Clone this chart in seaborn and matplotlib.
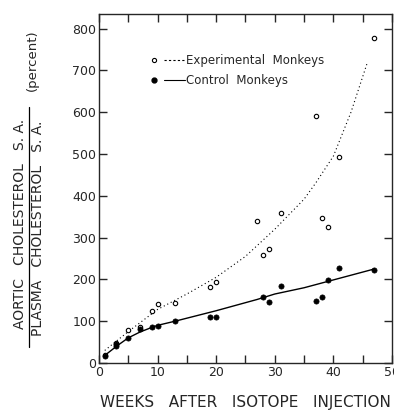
# Aortic / plasma cholesterol specific activity vs weeks after isotope injection

import pandas as pd
import seaborn as sns
import matplotlib.pyplot as plt
from matplotlib.lines import Line2D
from matplotlib.legend_handler import HandlerTuple

# individual animals
exp_weeks = [1, 3, 5, 7, 9, 10, 13, 19, 20, 27, 28, 29, 31, 37, 38, 39, 41, 47]
exp_vals = [20, 48, 79, 87, 125, 140, 143, 181, 194, 340, 258, 273, 358, 592, 347, 325, 492, 778]

ctl_weeks = [1, 3, 3, 5, 7, 9, 10, 13, 19, 20, 28, 29, 31, 37, 38, 39, 41, 47]
ctl_vals = [17, 40, 45, 59, 81, 85, 88, 100, 111, 111, 159, 145, 185, 149, 159, 199, 228, 223]

# hand-drawn trend curves
exp_curve_weeks = [1, 5, 10, 15, 20, 25, 30, 35, 37, 40, 43, 45.7]
exp_curve_vals = [30, 75, 128, 165, 205, 255, 320, 392, 431, 495, 600, 715]

ctl_curve_weeks = [1, 3, 5, 7, 9, 10, 13, 20, 27, 30, 35, 39, 47]
ctl_curve_vals = [18, 40, 60, 74, 85, 90, 100, 125, 152, 165, 180, 195, 225]

sns.set_style("ticks")
plt.rcParams['font.family'] = ['DejaVu Sans']

fig = plt.figure(figsize=(3.94, 4.12), dpi=100)
ax = fig.add_axes([0.251, 0.119, 0.744, 0.847])

dotted = (0, (1, 2.5))

sns.lineplot(x=exp_curve_weeks, y=exp_curve_vals, ax=ax, color='black',
             linewidth=0.8, linestyle=dotted, sort=False, estimator=None)
sns.lineplot(x=ctl_curve_weeks, y=ctl_curve_vals, ax=ax, color='black',
             linewidth=1.0, sort=False, estimator=None)
sns.scatterplot(x=exp_weeks, y=exp_vals, ax=ax, marker='o', s=10,
                facecolor='white', edgecolor='black', linewidth=0.8, zorder=3)
sns.scatterplot(x=ctl_weeks, y=ctl_vals, ax=ax, marker='o', s=14,
                color='black', edgecolor='black', linewidth=0.5, zorder=4)

ax.set_xlim(0, 50)
ax.set_ylim(0, 835)
ax.set_xticks(range(0, 51, 10))
ax.set_xticks(range(0, 51, 5), minor=True)
ax.set_yticks(range(0, 801, 100))
ax.tick_params(direction='in', top=True, right=True, length=6, width=1,
               labelsize=9, pad=2, which='major')
ax.tick_params(direction='in', top=True, length=6, width=1, which='minor')
for s in ax.spines.values():
    s.set_linewidth(1.0)

ax.set_xlabel('WEEKS   AFTER   ISOTOPE   INJECTION', fontsize=11, labelpad=12)
ax.set_ylabel('')

# legend: marker then line then text
h_exp = (Line2D([], [], marker='o', ls='', mfc='white', mec='black', ms=3, mew=0.8),
         Line2D([], [], color='black', ls=(0, (2, 2)), lw=0.8))
h_ctl = (Line2D([], [], marker='o', ls='', color='black', ms=3.5),
         Line2D([], [], color='black', lw=0.8))
ax.legend([h_exp, h_ctl], ['Experimental  Monkeys', 'Control  Monkeys'],
          handler_map={tuple: HandlerTuple(ndivide=None, pad=0)},
          loc='upper left', bbox_to_anchor=(0.115, 0.915), frameon=False,
          fontsize=8.5, handlelength=3.5, handletextpad=0.1, labelspacing=0.55)

# y label as a fraction
fig.text(0.051, 0.456, 'AORTIC   CHOLESTEROL   S. A.', rotation=90,
         ha='center', va='center', fontsize=10)
fig.text(0.097, 0.447, 'PLASMA   CHOLESTEROL   S. A.', rotation=90,
         ha='center', va='center', fontsize=10)
fig.add_artist(Line2D([0.074, 0.074], [0.158, 0.740], color='black', lw=0.9,
                      transform=fig.transFigure))
fig.text(0.081, 0.854, '(percent)', rotation=90, ha='center', va='center',
         fontsize=9.5)

fig.savefig('out.png', dpi=100)
